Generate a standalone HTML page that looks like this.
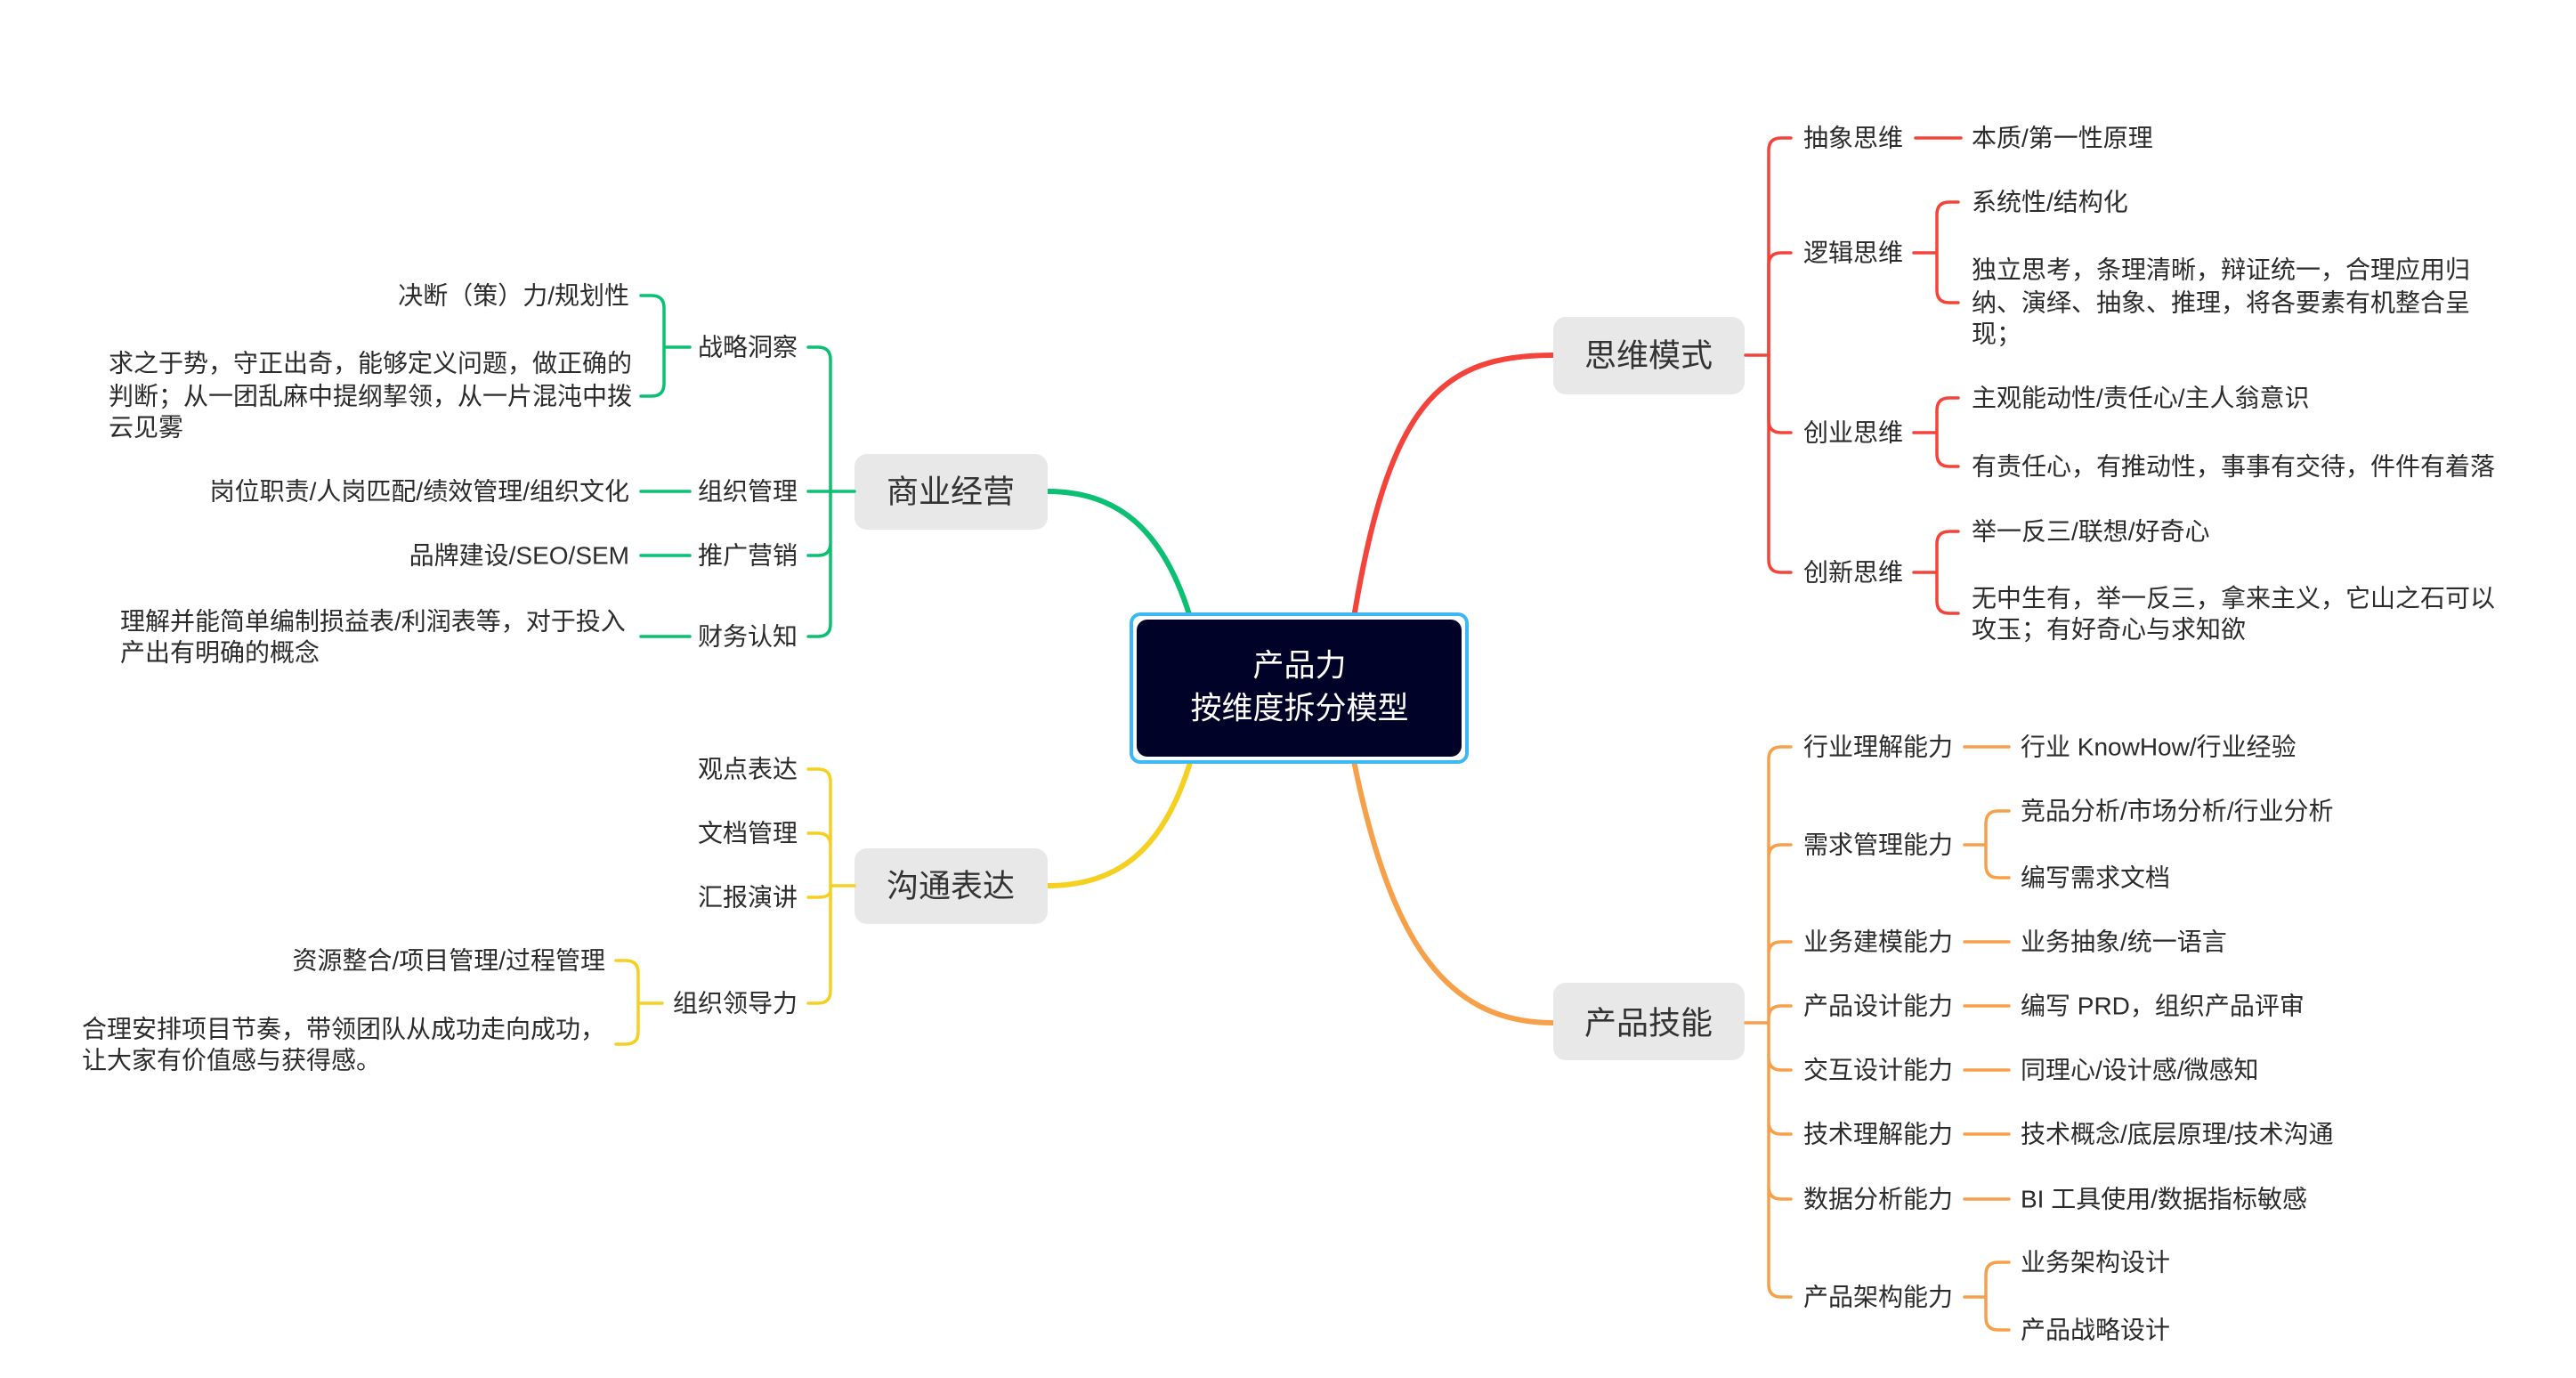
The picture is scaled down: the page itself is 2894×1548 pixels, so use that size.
<!DOCTYPE html>
<html><head><meta charset="utf-8"><style>
html,body{margin:0;padding:0;background:#fff;}
svg{display:block;}
text{font-family:"Liberation Sans","Noto Sans CJK SC",sans-serif;fill:#2b2b2b;font-size:28px;dominant-baseline:central;}
.t{font-size:36px;text-anchor:middle;fill:#333;}
.c{font-size:35px;text-anchor:middle;fill:#fff;}
.r{stroke:#f4433a;} .g{stroke:#0bbf73;} .y{stroke:#f5d020;} .o{stroke:#f7a04a;}
path{fill:none;stroke-width:3.5;stroke-linecap:round;}
.th{stroke-width:6;}
</style></head><body>
<svg width="2894" height="1548" viewBox="0 0 2894 1548">
<path class="r th" d="M1520 700 C1560 450,1620 399,1745 399"/>
<path class="g th" d="M1339 700 C1310 600,1260 552,1177 552"/>
<path class="y th" d="M1339 850 C1310 950,1260 995,1177 995"/>
<path class="o th" d="M1520 850 C1560 1050,1620 1149,1745 1149"/>

<rect x="1271" y="690" width="377" height="166" rx="10" fill="#fff" stroke="#3cb8f5" stroke-width="4"/>
<rect x="1277" y="696" width="365" height="154" rx="12" fill="#000327"/>
<text class="c" x="1460" y="748">产品力</text>
<text class="c" x="1460" y="796">按维度拆分模型</text>

<rect x="1745" y="356" width="215" height="87" rx="14" fill="#e8e8e8"/>
<text class="t" x="1852" y="399">思维模式</text>
<rect x="960" y="510" width="217" height="85" rx="14" fill="#e8e8e8"/>
<text class="t" x="1068" y="552">商业经营</text>
<rect x="960" y="953" width="217" height="85" rx="14" fill="#e8e8e8"/>
<text class="t" x="1068" y="995">沟通表达</text>
<rect x="1745" y="1104" width="215" height="87" rx="14" fill="#e8e8e8"/>
<text class="t" x="1852" y="1149">产品技能</text>

<path class="r" d="M1961 399 L1987 399"/>
<path class="r" d="M1987 399 L1987 169 Q1987 155 2001 155 L2012 155"/>
<path class="r" d="M1987 399 L1987 298 Q1987 284 2001 284 L2012 284"/>
<path class="r" d="M1987 399 L1987 472 Q1987 486 2001 486 L2012 486"/>
<path class="r" d="M1987 399 L1987 629 Q1987 643 2001 643 L2012 643"/>
<text x="2026" y="155">抽象思维</text>
<text x="2026" y="284">逻辑思维</text>
<text x="2026" y="486">创业思维</text>
<text x="2026" y="643">创新思维</text>
<path class="r" d="M2152 155 L2203 155"/>
<text x="2215" y="155">本质/第一性原理</text>
<path class="r" d="M2150 284 L2176 284 M2176 284 L2176 241 Q2176 227 2190 227 L2200 227 M2176 284 L2176 326 Q2176 340 2190 340 L2200 340"/>
<text x="2215" y="227">系统性/结构化</text>
<text x="2215" y="303">独立思考，条理清晰，辩证统一，合理应用归</text>
<text x="2215" y="340">纳、演绎、抽象、推理，将各要素有机整合呈</text>
<text x="2215" y="375">现；</text>
<path class="r" d="M2150 486 L2176 486 M2176 486 L2176 461 Q2176 447 2190 447 L2200 447 M2176 486 L2176 510 Q2176 524 2190 524 L2200 524"/>
<text x="2215" y="447">主观能动性/责任心/主人翁意识</text>
<text x="2215" y="524">有责任心，有推动性，事事有交待，件件有着落</text>
<path class="r" d="M2150 643 L2176 643 M2176 643 L2176 611 Q2176 597 2190 597 L2200 597 M2176 643 L2176 675 Q2176 689 2190 689 L2200 689"/>
<text x="2215" y="597">举一反三/联想/好奇心</text>
<text x="2215" y="672">无中生有，举一反三，拿来主义，它山之石可以</text>
<text x="2215" y="707">攻玉；有好奇心与求知欲</text>

<path class="o" d="M1961 1149 L1987 1149"/>
<path class="o" d="M1987 1149 L1987 853 Q1987 839 2001 839 L2012 839
M1987 1149 L1987 963 Q1987 949 2001 949 L2012 949
M1987 1149 L1987 1072 Q1987 1058 2001 1058 L2012 1058
M1987 1149 L1987 1144 Q1987 1130 2001 1130 L2012 1130
M1987 1149 L1987 1188 Q1987 1202 2001 1202 L2012 1202
M1987 1149 L1987 1260 Q1987 1274 2001 1274 L2012 1274
M1987 1149 L1987 1333 Q1987 1347 2001 1347 L2012 1347
M1987 1149 L1987 1443 Q1987 1457 2001 1457 L2012 1457"/>
<text x="2026" y="839">行业理解能力</text>
<text x="2026" y="949">需求管理能力</text>
<text x="2026" y="1058">业务建模能力</text>
<text x="2026" y="1130">产品设计能力</text>
<text x="2026" y="1202">交互设计能力</text>
<text x="2026" y="1274">技术理解能力</text>
<text x="2026" y="1347">数据分析能力</text>
<text x="2026" y="1457">产品架构能力</text>
<path class="o" d="M2207 839 L2257 839 M2207 1058 L2257 1058 M2207 1130 L2257 1130 M2207 1202 L2257 1202 M2207 1274 L2257 1274 M2207 1347 L2257 1347"/>
<path class="o" d="M2207 949 L2231 949 M2231 949 L2231 925 Q2231 911 2245 911 L2257 911 M2231 949 L2231 972 Q2231 986 2245 986 L2257 986"/>
<path class="o" d="M2207 1457 L2231 1457 M2231 1457 L2231 1432 Q2231 1418 2245 1418 L2257 1418 M2231 1457 L2231 1480 Q2231 1494 2245 1494 L2257 1494"/>
<text x="2270" y="839">行业 KnowHow/行业经验</text>
<text x="2270" y="911">竞品分析/市场分析/行业分析</text>
<text x="2270" y="986">编写需求文档</text>
<text x="2270" y="1058">业务抽象/统一语言</text>
<text x="2270" y="1130">编写 PRD，组织产品评审</text>
<text x="2270" y="1202">同理心/设计感/微感知</text>
<text x="2270" y="1274">技术概念/底层原理/技术沟通</text>
<text x="2270" y="1347">BI 工具使用/数据指标敏感</text>
<text x="2270" y="1418">业务架构设计</text>
<text x="2270" y="1494">产品战略设计</text>

<path class="g" d="M960 552 L933 552"/>
<path class="g" d="M933 552 L933 404 Q933 390 919 390 L908 390
M933 552 L908 552
M933 552 L933 610 Q933 624 919 624 L908 624
M933 552 L933 701 Q933 715 919 715 L908 715"/>
<text x="896" y="390" text-anchor="end">战略洞察</text>
<text x="896" y="552" text-anchor="end">组织管理</text>
<text x="896" y="624" text-anchor="end">推广营销</text>
<text x="896" y="715" text-anchor="end">财务认知</text>
<path class="g" d="M775 390 L746 390 M746 390 L746 346 Q746 332 732 332 L720 332 M746 390 L746 431 Q746 445 732 445 L720 445"/>
<path class="g" d="M775 552 L720 552 M775 624 L720 624 M775 715 L720 715"/>
<text x="707" y="332" text-anchor="end">决断（策）力/规划性</text>
<text x="122" y="408">求之于势，守正出奇，能够定义问题，做正确的</text>
<text x="122" y="445">判断；从一团乱麻中提纲挈领，从一片混沌中拨</text>
<text x="122" y="480">云见雾</text>
<text x="707" y="552" text-anchor="end">岗位职责/人岗匹配/绩效管理/组织文化</text>
<text x="707" y="624" text-anchor="end">品牌建设/SEO/SEM</text>
<text x="135" y="698">理解并能简单编制损益表/利润表等，对于投入</text>
<text x="135" y="733">产出有明确的概念</text>

<path class="y" d="M960 995 L933 995"/>
<path class="y" d="M933 995 L933 878 Q933 864 919 864 L908 864
M933 995 L933 950 Q933 936 919 936 L908 936
M933 995 L933 1000 Q933 1008 919 1008 L908 1008
M933 995 L933 1113 Q933 1127 919 1127 L908 1127"/>
<text x="896" y="864" text-anchor="end">观点表达</text>
<text x="896" y="936" text-anchor="end">文档管理</text>
<text x="896" y="1008" text-anchor="end">汇报演讲</text>
<text x="896" y="1127" text-anchor="end">组织领导力</text>
<path class="y" d="M744 1127 L717 1127 M717 1127 L717 1093 Q717 1079 703 1079 L692 1079 M717 1127 L717 1159 Q717 1173 703 1173 L692 1173"/>
<text x="680" y="1079" text-anchor="end">资源整合/项目管理/过程管理</text>
<text x="92" y="1156">合理安排项目节奏，带领团队从成功走向成功，</text>
<text x="92" y="1191">让大家有价值感与获得感。</text>
</svg>
</body></html>
